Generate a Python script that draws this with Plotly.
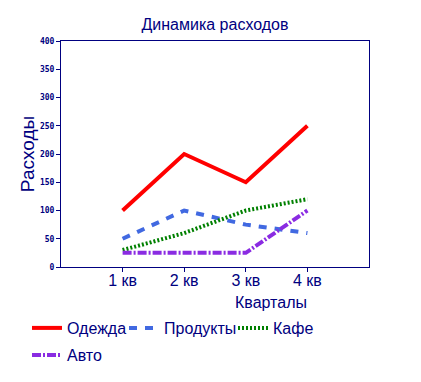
import plotly.graph_objects as go

quarters = ["1 кв", "2 кв", "3 кв", "4 кв"]
odezhda = [100, 200, 150, 250]
produkty = [50, 100, 75, 60]
kafe = [30, 60, 100, 120]
avto = [25, 25, 25, 100]
y_ticks = [0, 50, 100, 150, 200, 250, 300, 350, 400]

NAVY = "#000080"
FONT = "Liberation Sans, Arial, sans-serif"
W, H = 413, 374  # page body adds 8px offset

series = [
    ("Одежда", odezhda, "#ff0000", "solid", "legend"),
    ("Продукты", produkty, "#4169e1", "8px,8px", "legend2"),
    ("Кафе", kafe, "#008000", "2px,2px", "legend3"),
    ("Авто", avto, "#8a2be2", "9px,2px,2px,2px", "legend4"),
]

fig = go.Figure()
for name, vals, color, dash, lg in series:
    fig.add_trace(go.Scatter(x=quarters, y=vals, name=name, mode="lines", legend=lg,
                             showlegend=True,
                             line=dict(color=color, width=4, dash=dash)))

def leg(xpx, ypx):
    return dict(x=(xpx - 8) / W, y=1 - (ypx - 8) / H, xref="container", yref="container",
                xanchor="left", yanchor="middle", orientation="h", visible=True,
                font=dict(size=16, color=NAVY, family=FONT), bgcolor="rgba(0,0,0,0)")

fig.update_layout(
    width=W, height=H, showlegend=True,
    margin=dict(l=53, r=52, t=33, b=115, autoexpand=False),
    paper_bgcolor="white", plot_bgcolor="white",
    font=dict(family=FONT, color=NAVY),
    title=dict(text="Динамика расходов", x=(215 - 8) / W, xref="container", xanchor="center",
               y=1 - (24 - 8) / H, yref="container", yanchor="middle",
               font=dict(size=16, color=NAVY, family=FONT)),
    xaxis=dict(type="category", range=[-1, 4], showgrid=False, zeroline=False,
               showline=True, linecolor=NAVY, linewidth=1, mirror=True,
               ticks="outside", ticklen=4, tickcolor=NAVY, ticklabelstandoff=-5,
               tickfont=dict(size=16, color=NAVY, family=FONT)),
    yaxis=dict(range=[0, 400], tickvals=y_ticks, showgrid=False, zeroline=False,
               showline=True, linecolor=NAVY, linewidth=1, mirror=True,
               ticks="outside", ticklen=4, tickcolor=NAVY,
               tickfont=dict(size=8, color=NAVY, family="DejaVu Sans Mono", weight="bold"),
               title=dict(text="Расходы", font=dict(size=19, color=NAVY, family=FONT), standoff=0)),
    legend=leg(27, 328),
    legend2=leg(124, 328),
    legend3=leg(233, 328),
    legend4=leg(27, 355),
    annotations=[dict(text="Кварталы", x=(271 - 61) / 308, y=(267 - 302) / 226,
                      xref="paper", yref="paper", showarrow=False,
                      font=dict(size=16, color=NAVY, family=FONT),
                      xanchor="center", yanchor="middle")],
)

fig.write_html("out.html")
